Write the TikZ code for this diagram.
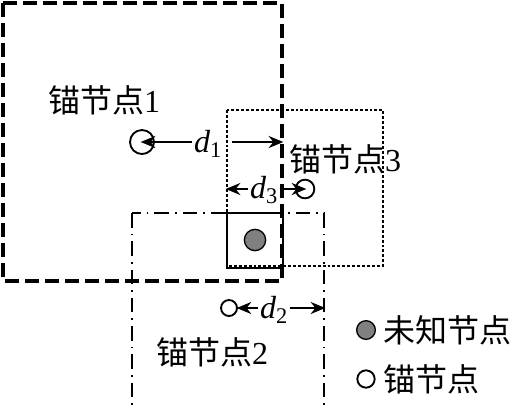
\documentclass[tikz,border=0pt]{standalone}
\usepackage{fontspec}
\setmainfont{Liberation Serif}
\newfontfamily\cjk{Noto Sans CJK SC}
\usepackage{tikz}
\usetikzlibrary{arrows.meta}

\begin{document}
\begin{tikzpicture}[x=0.75pt,y=-0.75pt,
  anchornode/.style={circle,draw,line width=1.4pt,fill=white,minimum size=13pt,inner sep=0pt},
  unknown/.style={circle,draw,line width=1pt,fill=gray,minimum size=16pt,inner sep=0pt},
  tag/.style={font=\fontsize{24}{27}\selectfont,inner sep=1pt},
  dist/.style={-{Stealth[length=11pt,width=9pt,inset=3.5pt]},line width=1.6pt,shorten >=-1pt},
  range1/.style={line width=2.4pt,dash pattern=on 10.5pt off 4.5pt},
  range2/.style={line width=1.9pt,dash pattern=on 11pt off 4.5pt on 1.2pt off 4.5pt},
  range3/.style={line width=1.7pt,dash pattern=on 2.2pt off 1.5pt}]
\useasboundingbox (0,0) rectangle (521,405);
% coverage of the three anchors
\draw[range1] (3,3) rectangle (282,281);
\draw[range3] (227,110) rectangle (383,266);
\draw[range2] (132,213) rectangle (324,407);
\draw[line width=1.5pt] (227,213) rectangle (283,268);
% nodes
\node[anchornode,minimum size=18pt] (a1) at (142,142) {};
\node[anchornode,minimum size=12pt] (a2) at (229,308) {};
\node[anchornode,minimum size=14pt] (a3) at (305,189) {};
\node[unknown] (u) at (255,240) {};
\node[tag] (l1) at (104,100) {{\cjk 锚节点}1};
\node[tag] (l3) at (345,159) {{\cjk 锚节点}3};
\node[tag] (l2) at (212,352) {{\cjk 锚节点}2};
% distances
\node[tag] (d1) at (208,144) {\textit{d}\textsubscript{1}};
\node[tag] (d3) at (264,190) {\textit{d}\textsubscript{3}};
\node[tag] (d2) at (274,310) {\textit{d}\textsubscript{2}};
\coordinate (e1) at (282,142);
\coordinate (e3) at (227,189);
\coordinate (e2) at (324,308);
\draw[dist] (d1.west |- e1) -- (a1.center);
\draw[dist] ([xshift=6pt]d1.east |- e1) -- (e1);
\draw[dist] (d3.west |- e3) -- (e3);
\draw[dist] (d3.east |- a3) -- (a3.center);
\draw[dist] (d2.west |- a2) -- (a2.east);
\draw[dist] (d2.east |- e2) -- (e2);
% legend
\node[unknown,minimum size=14pt] (k1) at (366,330) {};
\node[tag,anchor=west] (t1) at (382,330) {\cjk 未知节点};
\node[anchornode,minimum size=13pt] (k2) at (366,379) {};
\node[tag,anchor=west] (t2) at (382,379) {\cjk 锚节点};
\end{tikzpicture}
\end{document}
